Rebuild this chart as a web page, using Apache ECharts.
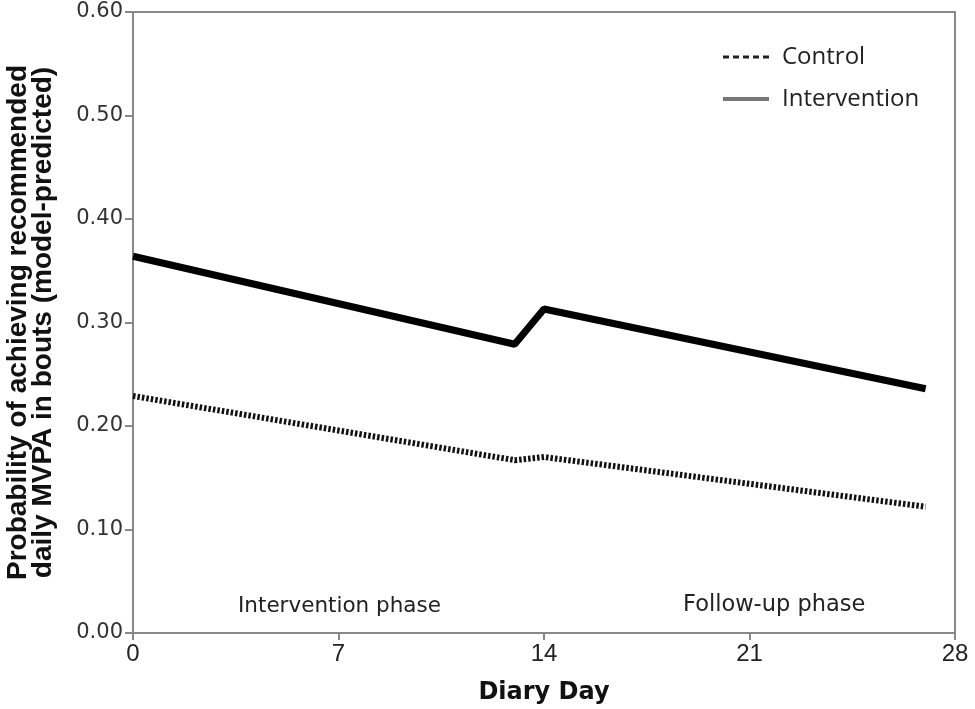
<!DOCTYPE html>
<html>
<head>
<meta charset="utf-8">
<script src="https://cdn.jsdelivr.net/npm/echarts@6/dist/echarts.min.js"></script>
<style>
html, body { margin: 0; padding: 0; background: #fff; }
#chart { width: 975px; height: 709px; }
</style>
</head>
<body>
<div id="chart"></div>
<script>
// model-predicted probabilities
let days = [0, 13, 14, 27];
let control = [0.229, 0.167, 0.170, 0.122];
let intervention = [0.364, 0.279, 0.313, 0.236];
let xTicks = [0, 7, 14, 21, 28];
let phaseLabels = ['Intervention phase', 'Follow-up phase'];

let chart = echarts.init(document.getElementById('chart'));
let option = {
	animation: false,
	grid: {
		left: 133,
		right: 20,
		top: 12,
		bottom: 76,
		outerBoundsMode: 'none',
		show: true,
		borderColor: '#888',
		borderWidth: 2
	},
	legend: {
		orient: 'vertical',
		left: 716,
		top: 40,
		itemWidth: 46,
		itemHeight: 14,
		itemGap: 18,
		itemStyle: { opacity: 0 },
		textStyle: { fontFamily: 'Open Sans', fontSize: 24, color: '#222', padding: [0, 0, 0, 8] },
		data: [
			{ name: 'Control', lineStyle: { color: '#222', width: 3, type: [6, 4] } },
			{ name: 'Intervention', lineStyle: { color: '#777', width: 4 } }
		]
	},
	xAxis: {
		type: 'value',
		min: 0,
		max: 28,
		interval: 7,
		name: 'Diary Day',
		nameLocation: 'middle',
		nameGap: 48,
		nameTextStyle: { fontFamily: 'DejaVu Sans', fontWeight: 'bold', fontSize: 24, color: '#111' },
		axisLine: { lineStyle: { color: '#888', width: 2 } },
		axisTick: { length: 7, lineStyle: { color: '#888', width: 2 } },
		axisLabel: {
			margin: 9,
			fontFamily: 'Liberation Sans',
			fontSize: 24,
			color: '#222',
			formatter: v => xTicks.includes(v) ? String(v) : ''
		},
		splitLine: { show: false }
	},
	yAxis: {
		type: 'value',
		min: 0,
		max: 0.6,
		interval: 0.1,
		name: 'Probability of achieving recommended\ndaily MVPA in bouts (model-predicted)',
		nameLocation: 'middle',
		nameRotate: 90,
		nameGap: 77,
		nameTextStyle: {
			fontFamily: 'Liberation Sans',
			fontWeight: 'bold',
			fontSize: 28,
			lineHeight: 25,
			color: '#111'
		},
		axisLine: { show: true, lineStyle: { color: '#888', width: 2 } },
		axisTick: { show: true, length: 8, lineStyle: { color: '#888', width: 2 } },
		axisLabel: {
			margin: 10,
			fontFamily: 'DejaVu Sans',
			fontSize: 21,
			color: '#333',
			formatter: v => v.toFixed(2)
		},
		splitLine: { show: false }
	},
	graphic: [
		{ type: 'text', left: 238, top: 595, style: { text: phaseLabels[0], fontFamily: 'DejaVu Sans', fontSize: 21.5, fill: '#222' } },
		{ type: 'text', left: 683, top: 594, style: { text: phaseLabels[1], fontFamily: 'DejaVu Sans', fontSize: 22.5, fill: '#222' } }
	],
	series: [
		{
			name: 'Control',
			type: 'line',
			symbol: 'none',
			data: days.map((d, i) => [d, control[i]]),
			lineStyle: { color: '#111', width: 6, type: [2.5, 2] },
			itemStyle: { color: '#111' }
		},
		{
			name: 'Intervention',
			type: 'line',
			symbol: 'none',
			data: days.map((d, i) => [d, intervention[i]]),
			lineStyle: { color: '#000', width: 7 },
			itemStyle: { color: '#000' }
		}
	]
};
chart.setOption(option);
</script>
</body>
</html>
